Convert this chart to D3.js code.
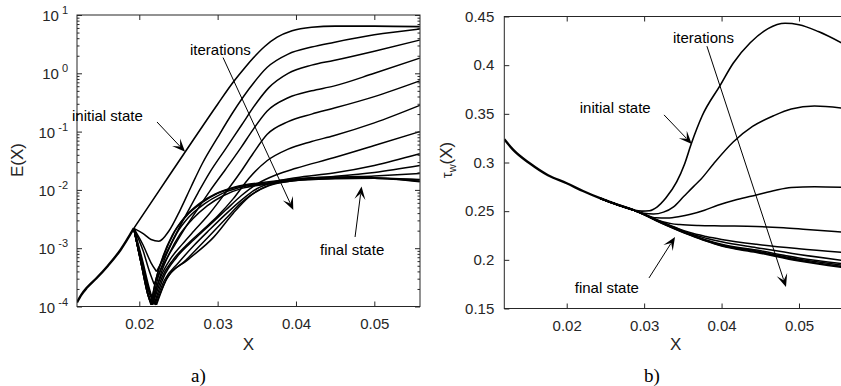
<!DOCTYPE html>
<html><head><meta charset="utf-8">
<script src="https://cdn.jsdelivr.net/npm/d3@7"></script>
<style>
body{margin:0;background:#fff;}
svg{display:block;}
</style></head><body>
<svg id="chart" width="841" height="386"></svg>
<script>
// ---------------- DATA ----------------
const xTicks = [0.02, 0.03, 0.04, 0.05];
const xTickLabels = ["0.02", "0.03", "0.04", "0.05"];
const leftYTickExponents = [-4, -3, -2, -1, 0, 1];
const rightYTicks = [0.15, 0.2, 0.25, 0.3, 0.35, 0.4, 0.45];
const rightYTickLabels = ["0.15", "0.2", "0.25", "0.3", "0.35", "0.4", "0.45"];

// Panel a): E(X), values given as log10(E) ; pairs [X, log10 E]
const leftCommon = [[0.01205,-3.93],[0.0126,-3.80],[0.0133,-3.68],[0.0145,-3.52],[0.0160,-3.30],[0.0176,-3.03],[0.0193,-2.66]];
const leftInitial = [[0.0193,-2.66],[0.0226,-2.0],[0.026,-1.32],[0.030,-0.53],[0.032,-0.15],[0.0335,0.10],[0.0346,0.27],[0.036,0.46],[0.0376,0.62],[0.0395,0.73],[0.042,0.79],[0.045,0.81],[0.050,0.81],[0.0558,0.80]];
const leftIterations = [
  [[0.0193,-2.66],[0.0205,-2.75],[0.0215,-2.85],[0.0225,-2.88],[0.0238,-2.7],[0.0252,-2.35],[0.0266,-1.95],[0.028,-1.56],[0.030,-1.1],[0.032,-0.66],[0.034,-0.27],[0.0363,0.1],[0.039,0.33],[0.042,0.45],[0.0448,0.53],[0.050,0.66],[0.0558,0.76]],
  [[0.0193,-2.66],[0.0205,-2.95],[0.0215,-3.25],[0.0222,-3.40],[0.0232,-3.15],[0.0245,-2.8],[0.026,-2.42],[0.0275,-2.05],[0.029,-1.7],[0.031,-1.3],[0.033,-0.9],[0.035,-0.5],[0.0365,-0.25],[0.039,0.0],[0.042,0.14],[0.0448,0.22],[0.050,0.38],[0.0558,0.57]],
  [[0.0193,-2.66],[0.0205,-3.05],[0.0213,-3.4],[0.0219,-3.62],[0.023,-3.3],[0.0245,-2.95],[0.026,-2.62],[0.0275,-2.32],[0.029,-2.02],[0.031,-1.65],[0.033,-1.27],[0.0345,-0.97],[0.0363,-0.65],[0.039,-0.42],[0.042,-0.3],[0.0448,-0.22],[0.050,0.0],[0.0558,0.26]],
  [[0.0193,-2.66],[0.0204,-3.2],[0.0212,-3.65],[0.0217,-3.88],[0.0227,-3.5],[0.024,-3.18],[0.0255,-2.93],[0.027,-2.7],[0.029,-2.4],[0.031,-2.05],[0.033,-1.68],[0.0345,-1.38],[0.0363,-1.05],[0.039,-0.83],[0.042,-0.7],[0.0448,-0.6],[0.050,-0.4],[0.0558,-0.13]],
  [[0.0193,-2.66],[0.0204,-3.25],[0.0212,-3.7],[0.0218,-3.93],[0.0229,-3.5],[0.0243,-3.2],[0.026,-2.95],[0.028,-2.7],[0.030,-2.45],[0.032,-2.15],[0.034,-1.8],[0.0363,-1.5],[0.039,-1.3],[0.042,-1.17],[0.0448,-1.07],[0.050,-0.85],[0.0558,-0.55]],
  [[0.0193,-2.66],[0.0204,-3.3],[0.0213,-3.75],[0.0219,-3.96],[0.0231,-3.5],[0.0248,-3.15],[0.027,-2.85],[0.029,-2.6],[0.031,-2.35],[0.033,-2.1],[0.035,-1.9],[0.0375,-1.74],[0.040,-1.63],[0.0448,-1.45],[0.050,-1.24],[0.0558,-1.0]],
  [[0.0193,-2.66],[0.0204,-3.3],[0.0214,-3.78],[0.0220,-3.96],[0.0232,-3.55],[0.025,-3.25],[0.027,-2.95],[0.029,-2.68],[0.031,-2.42],[0.033,-2.18],[0.035,-1.98],[0.0375,-1.85],[0.040,-1.79],[0.0448,-1.71],[0.050,-1.58],[0.0558,-1.38]],
  [[0.0193,-2.66],[0.0204,-3.32],[0.0214,-3.8],[0.0221,-3.97],[0.0234,-3.55],[0.026,-3.2],[0.0285,-2.85],[0.031,-2.5],[0.033,-2.22],[0.035,-2.02],[0.0375,-1.88],[0.040,-1.82],[0.0448,-1.77],[0.050,-1.7],[0.0558,-1.58]],
  [[0.0193,-2.66],[0.0204,-3.32],[0.0215,-3.82],[0.0222,-3.97],[0.0236,-3.5],[0.0261,-3.21],[0.0295,-2.81],[0.032,-2.4],[0.034,-2.12],[0.0365,-1.93],[0.040,-1.84],[0.0448,-1.79],[0.050,-1.76],[0.0558,-1.72]],
  [[0.0193,-2.66],[0.0203,-3.3],[0.0211,-3.8],[0.0215,-3.97],[0.0222,-3.5],[0.0232,-3.1],[0.0245,-2.72],[0.026,-2.45],[0.028,-2.22],[0.030,-2.06],[0.0325,-1.95],[0.0363,-1.88],[0.040,-1.82],[0.045,-1.79],[0.050,-1.8],[0.0558,-1.85]],
  [[0.0193,-2.66],[0.0203,-3.3],[0.0211,-3.8],[0.0216,-3.97],[0.0224,-3.5],[0.0235,-3.1],[0.0248,-2.74],[0.0263,-2.47],[0.0283,-2.24],[0.0303,-2.08],[0.0328,-1.96],[0.0363,-1.89],[0.040,-1.83],[0.045,-1.8],[0.050,-1.8],[0.0558,-1.83]],
  [[0.0193,-2.66],[0.0203,-3.3],[0.0212,-3.8],[0.0217,-3.97],[0.0226,-3.5],[0.0238,-3.1],[0.0252,-2.76],[0.0268,-2.5],[0.0287,-2.27],[0.0307,-2.1],[0.0332,-1.97],[0.0365,-1.9],[0.040,-1.84],[0.045,-1.81],[0.050,-1.8],[0.0558,-1.82]],
  [[0.0193,-2.66],[0.0203,-3.3],[0.0211,-3.8],[0.0215,-3.95],[0.0221,-3.55],[0.023,-3.15],[0.0242,-2.78],[0.0257,-2.48],[0.0277,-2.23],[0.0297,-2.07],[0.0322,-1.95],[0.036,-1.87],[0.040,-1.81],[0.045,-1.78],[0.050,-1.79],[0.0558,-1.86]]
];

// Panel b): tau_w(X) ; pairs [X, tau]
const rightCommon = [[0.01194,0.3239],[0.0131,0.3130],[0.01526,0.2989],[0.01758,0.2869],[0.0200,0.2787],[0.0221,0.2707],[0.0243,0.2633],[0.02645,0.2569],[0.0286,0.2512]];
const rightInitial = [[0.0286,0.2512],[0.0297,0.2500],[0.0307,0.2505],[0.0317,0.2545],[0.0328,0.2635],[0.0342,0.2800],[0.0352,0.2980],[0.0361,0.3195],[0.0375,0.3480],[0.0398,0.3790],[0.0415,0.4020],[0.0437,0.4230],[0.0460,0.4375],[0.0482,0.4430],[0.0500,0.4415],[0.0525,0.4345],[0.0557,0.4220]];
const rightIterations = [
  [[0.0286,0.2512],[0.0300,0.2478],[0.0312,0.2470],[0.0325,0.2490],[0.0338,0.2545],[0.0351,0.2650],[0.0364,0.2755],[0.0373,0.2825],[0.0390,0.2990],[0.0415,0.3210],[0.0440,0.3370],[0.0467,0.3480],[0.0490,0.3550],[0.0520,0.3580],[0.0557,0.3558]],
  [[0.0286,0.2512],[0.0300,0.2470],[0.0315,0.2432],[0.0330,0.2430],[0.0346,0.2445],[0.0360,0.2468],[0.0378,0.2510],[0.0395,0.2560],[0.0420,0.2620],[0.0445,0.2667],[0.0470,0.2715],[0.0490,0.2742],[0.0520,0.2752],[0.0557,0.2745]],
  [[0.0286,0.2512],[0.0300,0.2470],[0.0312,0.2425],[0.0324,0.2392],[0.0335,0.2372],[0.0346,0.2362],[0.0370,0.2352],[0.0400,0.2348],[0.0445,0.2343],[0.0480,0.2330],[0.0510,0.2312],[0.0557,0.2285]],
  [[0.0286,0.2512],[0.0300,0.2468],[0.0315,0.2415],[0.0330,0.2365],[0.0345,0.2318],[0.0359,0.2280],[0.0380,0.2240],[0.0400,0.2210],[0.0445,0.2160],[0.0500,0.2115],[0.0557,0.2077]],
  [[0.0286,0.2512],[0.0300,0.2467],[0.0315,0.2413],[0.0330,0.2362],[0.0345,0.2314],[0.0359,0.2270],[0.0380,0.2222],[0.0400,0.2185],[0.0445,0.2125],[0.0500,0.2055],[0.0557,0.1994]],
  [[0.0286,0.2512],[0.0300,0.2466],[0.0315,0.2410],[0.0330,0.2357],[0.0345,0.2307],[0.0359,0.2262],[0.0380,0.2205],[0.0400,0.2160],[0.0445,0.2100],[0.0500,0.2020],[0.0557,0.1960]],
  [[0.0286,0.2512],[0.0300,0.2465],[0.0315,0.2408],[0.0330,0.2354],[0.0345,0.2304],[0.0359,0.2260],[0.0380,0.2200],[0.0400,0.2152],[0.0445,0.2090],[0.0500,0.2005],[0.0557,0.1944]],
  [[0.0286,0.2512],[0.0300,0.2464],[0.0315,0.2406],[0.0330,0.2352],[0.0345,0.2301],[0.0359,0.2257],[0.0380,0.2196],[0.0400,0.2146],[0.0445,0.2082],[0.0500,0.1995],[0.0557,0.1930]],
  [[0.0286,0.2512],[0.0300,0.2463],[0.0315,0.2404],[0.0330,0.2349],[0.0345,0.2298],[0.0359,0.2254],[0.0380,0.2192],[0.0400,0.2141],[0.0445,0.2076],[0.0500,0.1988],[0.0557,0.1920]]
];

// ---------------- DRAWING ----------------
const FONT = '"Liberation Sans", Arial, Helvetica, sans-serif';
const SERIF = '"Liberation Serif", "Times New Roman", serif';
const AX = "#262626";
const svg = d3.select("#chart");

const xL = d3.scaleLinear().domain([0.01205, 0.05583]).range([77, 420]);
const yL = d3.scaleLog().domain([1e-4, 10]).range([306.5, 15]);
const xR = d3.scaleLinear().domain([0.01194, 0.0562]).range([504.3, 847]);
const yR = d3.scaleLinear().domain([0.15, 0.45]).range([308.5, 16.5]);

const defs = svg.append("defs");
defs.append("clipPath").attr("id","clipL").append("rect")
  .attr("x",xL.range()[0]).attr("y",yL.range()[1]).attr("width",xL.range()[1]-xL.range()[0]).attr("height",yL.range()[0]-yL.range()[1]);
defs.append("clipPath").attr("id","clipR").append("rect")
  .attr("x",xR.range()[0]).attr("y",yR.range()[1]).attr("width",xR.range()[1]-xR.range()[0]).attr("height",yR.range()[0]-yR.range()[1]);

function styleAxis(g){
  g.select(".domain").remove();
  g.selectAll(".tick line").attr("stroke",AX).attr("stroke-width",1);
  g.selectAll(".tick text").attr("fill",AX).attr("font-family",FONT).attr("font-size",15);
}

function arrow(g, p1, p2){
  const ang = Math.atan2(p2[1]-p1[1], p2[0]-p1[0]);
  const L = 13, Wd = 11;
  g.append("line").attr("x1",p1[0]).attr("y1",p1[1])
    .attr("x2",p2[0]-Math.cos(ang)*L*0.6).attr("y2",p2[1]-Math.sin(ang)*L*0.6)
    .attr("stroke","#000").attr("stroke-width",1);
  g.append("path").attr("d",`M0,0L${-L},${-Wd/2}L${-L*0.55},0L${-L},${Wd/2}Z`)
    .attr("transform",`translate(${p2[0]},${p2[1]}) rotate(${ang*180/Math.PI})`)
    .attr("fill","#000");
}
function note(g, p, txt){
  g.append("text").attr("x",p[0]).attr("y",p[1]).attr("font-family",FONT).attr("font-size",15)
    .attr("fill","#000").text(txt);
}

// ===== Left panel =====
const gL = svg.append("g");
{
  const x0=xL.range()[0], x1=xL.range()[1], yb=yL.range()[0], yt=yL.range()[1];
  // curves
  const line = d3.line().x(d=>xL(d[0])).y(d=>yL(Math.pow(10,d[1]))).curve(d3.curveMonotoneX);
  const cg = gL.append("g").attr("clip-path","url(#clipL)").attr("fill","none").attr("stroke","#000");
  cg.append("path").attr("d",line(leftCommon)).attr("stroke-width",2.4);
  cg.append("path").attr("d",line(leftInitial)).attr("stroke-width",1.6);
  leftIterations.forEach(br=>{
    let mi = d3.minIndex(br, d=>d[1]);
    if (br[mi][1] < -3.0 && mi>0 && mi<br.length-1){
      cg.append("path").attr("d",line(br.slice(0,mi+1))).attr("stroke-width",1.5);
      cg.append("path").attr("d",line(br.slice(mi))).attr("stroke-width",1.5);
    } else {
      cg.append("path").attr("d",line(br)).attr("stroke-width",1.5);
    }
  });
  // axes
  gL.append("g").attr("transform",`translate(0,${yb})`)
    .call(d3.axisBottom(xL).tickValues(xTicks).tickSize(-5).tickPadding(12).tickFormat((d,i)=>xTickLabels[i]))
    .call(styleAxis);
  gL.append("g").attr("transform",`translate(0,${yt})`)
    .call(d3.axisTop(xL).tickValues(xTicks).tickSize(-5).tickFormat(""))
    .call(styleAxis);
  const major = leftYTickExponents.map(e=>Math.pow(10,e));
  const minor = [];
  leftYTickExponents.slice(0,-1).forEach(e=>{ for(let m=2;m<=9;m++) minor.push(m*Math.pow(10,e)); });
  gL.append("g").attr("transform",`translate(${x0},0)`)
    .call(d3.axisLeft(yL).tickValues(major).tickSize(-5).tickFormat("")).call(styleAxis);
  gL.append("g").attr("transform",`translate(${x0},0)`)
    .call(d3.axisLeft(yL).tickValues(minor).tickSize(-2.5).tickFormat("")).call(styleAxis);
  gL.append("g").attr("transform",`translate(${x1},0)`)
    .call(d3.axisRight(yL).tickValues(major).tickSize(-5).tickFormat("")).call(styleAxis);
  gL.append("g").attr("transform",`translate(${x1},0)`)
    .call(d3.axisRight(yL).tickValues(minor).tickSize(-2.5).tickFormat("")).call(styleAxis);
  // log labels
  leftYTickExponents.forEach(e=>{
    const t = gL.append("text").attr("x",x0-9).attr("y",yL(Math.pow(10,e))).attr("dy","0.4em")
      .attr("text-anchor","end").attr("font-family",FONT).attr("font-size",15).attr("fill",AX);
    t.append("tspan").text("10");
    t.append("tspan").attr("dx",3).attr("dy",-7).attr("font-size",11).text(String(e).replace("-","-"));
  });
  gL.append("rect").attr("x",x0).attr("y",yt).attr("width",x1-x0).attr("height",yb-yt)
    .attr("fill","none").attr("stroke",AX).attr("stroke-width",1);
  // labels
  gL.append("text").attr("x",(x0+x1)/2).attr("y",350).attr("text-anchor","middle")
    .attr("font-family",FONT).attr("font-size",17).attr("fill",AX).text("X");
  gL.append("text").attr("transform",`translate(23,160) rotate(-90)`).attr("text-anchor","middle")
    .attr("font-family",FONT).attr("font-size",17).attr("fill",AX).text("E(X)");
  gL.append("text").attr("x",(x0+x1)/2 - 50).attr("y",382).attr("text-anchor","middle")
    .attr("font-family",SERIF).attr("font-size",19).attr("fill","#000").text("a)");
  // annotations
  const pL = (X,l)=>[xL(X), yL(Math.pow(10,l))];
  note(gL, pL(0.02647,0.31), "iterations");
  arrow(gL, pL(0.03069,0.27), pL(0.03966,-2.345));
  note(gL, pL(0.01141,-0.818), "initial state");
  arrow(gL, pL(0.02226,-0.835), pL(0.02584,-1.345));
  note(gL, pL(0.04307,-3.117), "final state");
  arrow(gL, pL(0.04754,-2.808), pL(0.04837,-1.942));
}

// ===== Right panel =====
const gR = svg.append("g");
{
  const x0=xR.range()[0], x1=xR.range()[1], yb=yR.range()[0], yt=yR.range()[1];
  const line = d3.line().x(d=>xR(d[0])).y(d=>yR(d[1])).curve(d3.curveMonotoneX);
  const cg = gR.append("g").attr("clip-path","url(#clipR)").attr("fill","none").attr("stroke","#000");
  cg.append("path").attr("d",line(rightCommon)).attr("stroke-width",2.4);
  const tail = rightCommon.slice(-3, -1);
  cg.append("path").attr("d",line(tail.concat(rightInitial))).attr("stroke-width",1.6);
  rightIterations.forEach(br=>{
    cg.append("path").attr("d",line(tail.concat(br))).attr("stroke-width",1.5);
  });
  gR.append("g").attr("transform",`translate(0,${yb})`)
    .call(d3.axisBottom(xR).tickValues(xTicks).tickSize(-5).tickPadding(12).tickFormat((d,i)=>xTickLabels[i]))
    .call(styleAxis);
  gR.append("g").attr("transform",`translate(0,${yt})`)
    .call(d3.axisTop(xR).tickValues(xTicks).tickSize(-5).tickFormat(""))
    .call(styleAxis);
  gR.append("g").attr("transform",`translate(${x0},0)`)
    .call(d3.axisLeft(yR).tickValues(rightYTicks).tickSize(-5).tickPadding(10).tickFormat((d,i)=>rightYTickLabels[i]))
    .call(styleAxis);
  gR.append("g").attr("transform",`translate(${x1},0)`)
    .call(d3.axisRight(yR).tickValues(rightYTicks).tickSize(-5).tickFormat(""))
    .call(styleAxis);
  gR.append("rect").attr("x",x0).attr("y",yt).attr("width",x1-x0).attr("height",yb-yt)
    .attr("fill","none").attr("stroke",AX).attr("stroke-width",1);
  gR.append("text").attr("x",(x0+x1)/2).attr("y",350).attr("text-anchor","middle")
    .attr("font-family",FONT).attr("font-size",17).attr("fill",AX).text("X");
  const yl = gR.append("text").attr("transform",`translate(452,160) rotate(-90)`).attr("text-anchor","middle")
    .attr("font-family",FONT).attr("font-size",17).attr("fill",AX);
  yl.append("tspan").attr("font-size",15).text("τ");
  yl.append("tspan").attr("font-size",11).attr("dy",4).text("w");
  yl.append("tspan").attr("dy",-4).text("(X)");
  gR.append("text").attr("x",652).attr("y",382).attr("text-anchor","middle")
    .attr("font-family",SERIF).attr("font-size",19).attr("fill","#000").text("b)");
  const pR = (X,t)=>[xR(X), yR(t)];
  note(gR, pR(0.03373,0.4229), "iterations");
  arrow(gR, pR(0.03811,0.4195), pR(0.04832,0.1721));
  note(gR, pR(0.02169,0.3509), "initial state");
  arrow(gR, pR(0.03257,0.3489), pR(0.03615,0.3191));
  note(gR, pR(0.02104,0.1659), "final state");
  arrow(gR, pR(0.03063,0.1814), pR(0.03399,0.2235));
}
</script>
</body></html>
